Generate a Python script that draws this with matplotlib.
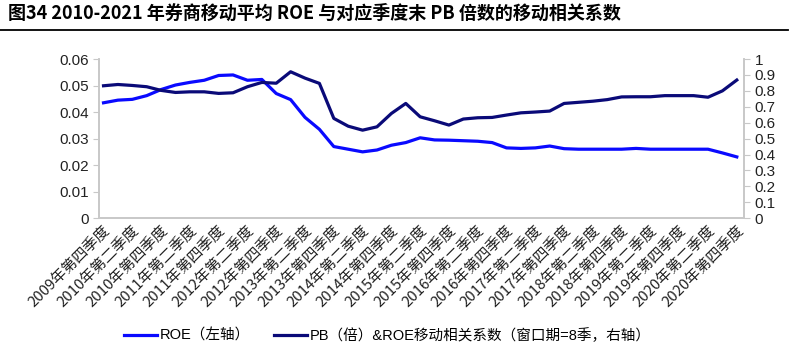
import matplotlib
matplotlib.use('Agg')
import matplotlib.pyplot as plt
from matplotlib.lines import Line2D
from matplotlib.transforms import ScaledTranslation

plt.rcParams['font.family'] = ['Liberation Sans', 'Noto Sans CJK SC']

# 季度序列: 2009Q4 - 2020Q4
quarters = []
for y in range(2009, 2021):
    for q in ['一', '二', '三', '四']:
        quarters.append(f'{y}年第{q}季度')
quarters = quarters[3:]

roe = [0.0435, 0.0445, 0.0448, 0.0462, 0.0485, 0.0502, 0.0512, 0.0520, 0.0538, 0.0540,
       0.0520, 0.0523, 0.0470, 0.0447, 0.0380, 0.0335, 0.0270, 0.0260, 0.0250, 0.0257,
       0.0275, 0.0285, 0.0303, 0.0295, 0.0294, 0.0292, 0.0290, 0.0285, 0.0265, 0.0263,
       0.0265, 0.0272, 0.0262, 0.0260, 0.0260, 0.0260, 0.0260, 0.0263, 0.0260, 0.0260,
       0.0260, 0.0260, 0.0260, 0.0246, 0.0231]

pb_corr = [0.832, 0.840, 0.834, 0.826, 0.803, 0.790, 0.794, 0.794, 0.784, 0.788,
           0.826, 0.853, 0.848, 0.920, 0.880, 0.847, 0.627, 0.578, 0.553, 0.574,
           0.658, 0.721, 0.637, 0.612, 0.585, 0.623, 0.631, 0.633, 0.648, 0.662,
           0.667, 0.673, 0.721, 0.728, 0.735, 0.745, 0.762, 0.763, 0.763, 0.770,
           0.770, 0.770, 0.760, 0.800, 0.868]

left_ticks = [0, 0.01, 0.02, 0.03, 0.04, 0.05, 0.06]
right_ticks = [0, 0.1, 0.2, 0.3, 0.4, 0.5, 0.6, 0.7, 0.8, 0.9, 1]

title = '图34 2010-2021 年券商移动平均 ROE 与对应季度末 PB 倍数的移动相关系数'
roe_label = 'ROE（左轴）'
pb_label = 'PB（倍）&ROE移动相关系数（窗口期=8季，右轴）'

c_roe = '#0A0AFF'
c_pb = '#0A0A78'
grey = '#C8C8C8'

fig = plt.figure(figsize=(8, 3.6), dpi=100)
ax = fig.add_axes([0.124, 0.394, 0.806, 0.442])
ax2 = ax.twinx()

x = list(range(len(quarters)))
ax.plot(x, roe, color=c_roe, lw=2.3, solid_joinstyle='round')
ax2.plot(x, pb_corr, color=c_pb, lw=2.3, solid_joinstyle='round')

ax.set_ylim(0, 0.06)
ax2.set_ylim(0, 1)
ax.set_xlim(-0.3, len(quarters) - 0.5)
ax.set_yticks(left_ticks)
ax.set_yticklabels([f'{v:g}' for v in left_ticks])
ax2.set_yticks(right_ticks)
ax2.set_yticklabels([f'{v:g}' for v in right_ticks])

ax.set_xticks(x[::2])
ax.set_xticklabels(quarters[::2], rotation=45, ha='right', va='top',
                   rotation_mode='anchor', fontsize=10.8,
                   family=['Noto Sans CJK SC'], color='#222222')
shift = ScaledTranslation(7 / 100, -4 / 100, fig.dpi_scale_trans)
for lab in ax.get_xticklabels():
    lab.set_transform(lab.get_transform() + shift)

for a in (ax, ax2):
    a.spines['top'].set_visible(False)
    for s in ['left', 'right', 'bottom']:
        a.spines[s].set_color(grey)
        a.spines[s].set_linewidth(1.2)
    a.tick_params(axis='y', colors=grey, labelcolor='#222222', labelsize=11, length=4)
ax.tick_params(axis='x', length=0, pad=4)

fig.text(0.01, 0.962, title, fontsize=13, fontweight='bold', va='center',
         family=['Noto Sans CJK SC'])
fig.add_artist(Line2D([0, 0.985], [0.917, 0.917], color='black', lw=1.3))

handles = [Line2D([], [], color=c_roe, lw=2.3), Line2D([], [], color=c_pb, lw=2.3)]
fig.legend(handles, [roe_label, pb_label], loc='center left',
           bbox_to_anchor=(0.138, 0.068), ncol=2, frameon=False,
           handlelength=2.3, handletextpad=0.2, columnspacing=1.6,
           prop={'family': ['Liberation Sans', 'Noto Sans CJK SC'], 'size': 10.5})

fig.savefig('out.png', dpi=100)
